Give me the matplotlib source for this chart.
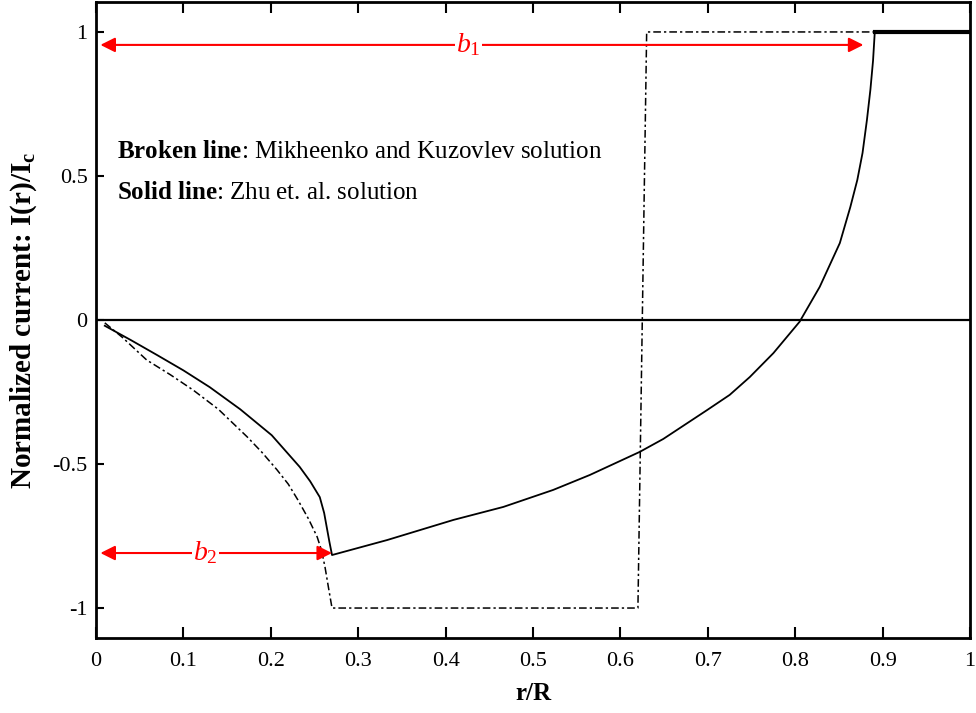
import matplotlib
matplotlib.use('Agg')
import matplotlib.pyplot as plt

plt.rcParams['font.family'] = 'Liberation Serif'
plt.rcParams['mathtext.fontset'] = 'custom'
plt.rcParams['mathtext.rm'] = 'Liberation Serif'
plt.rcParams['mathtext.it'] = 'Liberation Serif:italic'
plt.rcParams['mathtext.bf'] = 'Liberation Serif:bold'

# Zhu et al. solution (solid line)
zhu_r = [0.010, 0.040, 0.070, 0.100, 0.130, 0.165, 0.201, 0.233, 0.245,
         0.256, 0.261, 0.264, 0.267, 0.270,
         0.333, 0.409, 0.466, 0.523, 0.565, 0.622, 0.649, 0.699, 0.725,
         0.748, 0.775, 0.805, 0.828, 0.851, 0.863, 0.871, 0.877, 0.882,
         0.886, 0.889, 0.891]
zhu_i = [-0.02, -0.07, -0.122, -0.175, -0.233, -0.31, -0.40, -0.51, -0.56,
         -0.615, -0.67, -0.72, -0.77, -0.816,
         -0.764, -0.694, -0.649, -0.59, -0.538, -0.458, -0.413, -0.313, -0.26,
         -0.198, -0.115, -0.006, 0.115, 0.267, 0.392, 0.486, 0.58, 0.694,
         0.80, 0.90, 1.0]
# flat part at the end (thick)
flat_r = [0.891, 1.0]
flat_i = [1.0, 1.0]

# Mikheenko and Kuzovlev solution (broken line)
mk_r = [0.010, 0.030, 0.058, 0.085, 0.111, 0.140, 0.173, 0.190, 0.207,
        0.220, 0.231, 0.243, 0.253, 0.258, 0.262, 0.266, 0.270,
        0.620, 0.630, 0.891]
mk_i = [-0.01, -0.06, -0.139, -0.19, -0.243, -0.31, -0.406, -0.46, -0.52,
        -0.57, -0.625, -0.69, -0.753, -0.80, -0.858, -0.93, -1.0,
        -1.0, 1.0, 1.0]

xticks = [0, 0.1, 0.2, 0.3, 0.4, 0.5, 0.6, 0.7, 0.8, 0.9, 1]
xlabels = ['0', '0.1', '0.2', '0.3', '0.4', '0.5', '0.6', '0.7', '0.8', '0.9', '1']
yticks = [-1, -0.5, 0, 0.5, 1]
ylabels = ['-1', '-0.5', '0', '0.5', '1']

# arrows: (start, end, y, label, label x)
b1 = (0.005, 0.878, 0.955, r'$b_1$', 0.426)
b2 = (0.005, 0.270, -0.809, r'$b_2$', 0.125)

fig = plt.figure(figsize=(9.76, 7.13), dpi=100)
ax = fig.add_axes([0.0984, 0.1052, 0.8955, 0.892])

ax.axhline(0, color='black', lw=1.6, zorder=1)
ax.plot(mk_r, mk_i, color='black', lw=1.1, dashes=(5, 2, 1.5, 2), zorder=2)
ax.plot(zhu_r, zhu_i, color='black', lw=1.3, zorder=3)
ax.plot(flat_r, flat_i, color='black', lw=3, zorder=3)

for a in (b1, b2):
    ax.annotate('', xy=(a[0], a[2]), xytext=(a[1], a[2]),
                arrowprops=dict(arrowstyle='<|-|>', color='red', lw=1.5,
                                mutation_scale=22, shrinkA=0, shrinkB=0),
                zorder=4)
    ax.text(a[4], a[2], a[3], color='red', fontsize=20, ha='center', va='center',
            bbox=dict(facecolor='white', edgecolor='none', pad=1), zorder=5)

ax.text(0.024, 0.583, r'$\mathbf{Broken\ line}$: Mikheenko and Kuzovlev solution',
        fontsize=18, va='center')
ax.text(0.024, 0.441, r'$\mathbf{Solid\ line}$: Zhu et. al. solution',
        fontsize=18, va='center')

ax.set_xlim(0, 1)
ax.set_ylim(-1.104, 1.104)
ax.set_xticks(xticks)
ax.set_xticklabels(xlabels, fontsize=16)
ax.set_yticks(yticks)
ax.set_yticklabels(ylabels, fontsize=16)
ax.tick_params(axis='x', direction='in', length=8, width=1.5, top=True, pad=10)
ax.tick_params(axis='y', direction='in', length=6, width=1.5, pad=6)
for s in ax.spines.values():
    s.set_linewidth(2)

ax.set_xlabel('r/R', fontsize=18, fontweight='bold', labelpad=8)
ax.set_ylabel(r'Normalized current: I(r)/I$\mathregular{_c}$', fontsize=21,
              fontweight='bold', labelpad=10)

fig.savefig('out.png', dpi=100)
